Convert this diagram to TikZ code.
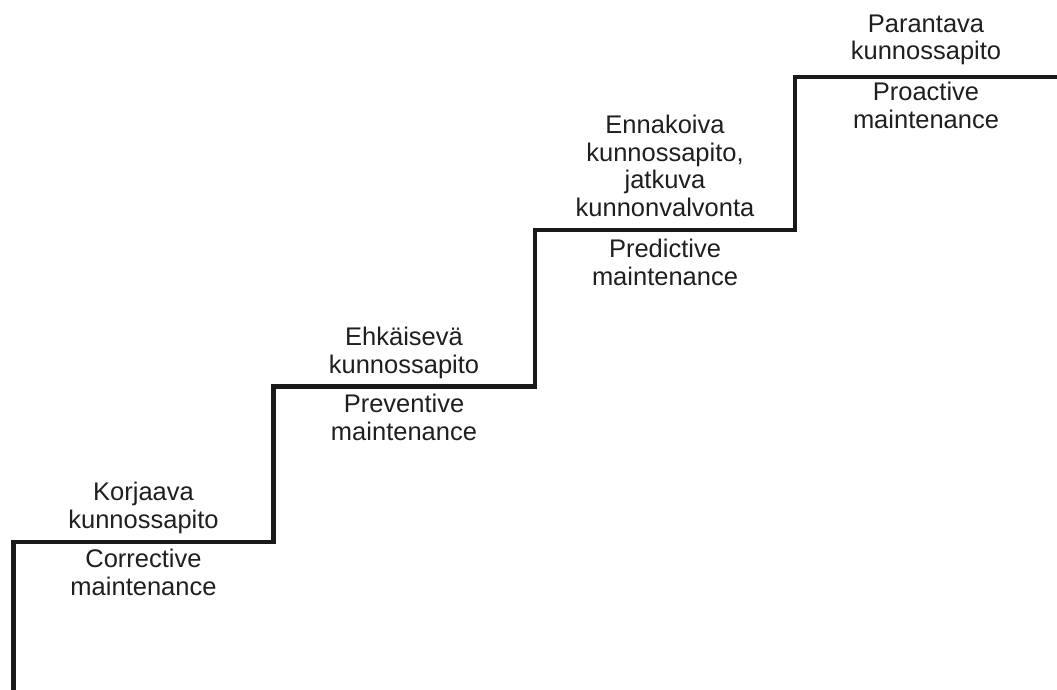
\documentclass[tikz,border=0pt]{standalone}
\usepackage{fontspec}
\setmainfont{Liberation Sans}
\begin{document}
\begin{tikzpicture}[x=1pt,y=-1pt,
  stair/.style={line width=4.4pt,draw=black!90,line join=miter,line cap=butt},
  lbl/.style={align=center,inner sep=0pt,anchor=base,text=black!88,
              font=\fontsize{25.5}{27.8}\selectfont}]
\useasboundingbox (0,0) rectangle (1057,690);

% corners of the staircase
\coordinate (s0) at (13.5,692);
\coordinate (s1) at (13.5,542);
\coordinate (s2) at (273.5,542);
\coordinate (s3) at (273.5,386.5);
\coordinate (s4) at (535,386.5);
\coordinate (s5) at (535,230);
\coordinate (s6) at (795,230);
\coordinate (s7) at (795,77);
\coordinate (s8) at (1059,77);

\draw[stair] (s0) -- (s1) -- (s2) -- (s3) -- (s4) -- (s5) -- (s6) -- (s7) -- (s8);

% step 1
\node[lbl] (fi1) at (143.5,528.3) {Korjaava\\kunnossapito};
\node[lbl] (en1) at (143.5,595.7) {Corrective\\maintenance};
% step 2
\node[lbl] (fi2) at (404,373.3) {Ehkäisevä\\kunnossapito};
\node[lbl] (en2) at (404,440) {Preventive\\maintenance};
% step 3
\node[lbl] (fi3) at (665,216.7) {Ennakoiva\\kunnossapito,\\jatkuva\\kunnonvalvonta};
\node[lbl] (en3) at (665,285) {Predictive\\maintenance};
% step 4
\node[lbl] (fi4) at (926,60) {Parantava\\kunnossapito};
\node[lbl] (en4) at (926,128.3) {Proactive\\maintenance};
\end{tikzpicture}
\end{document}
